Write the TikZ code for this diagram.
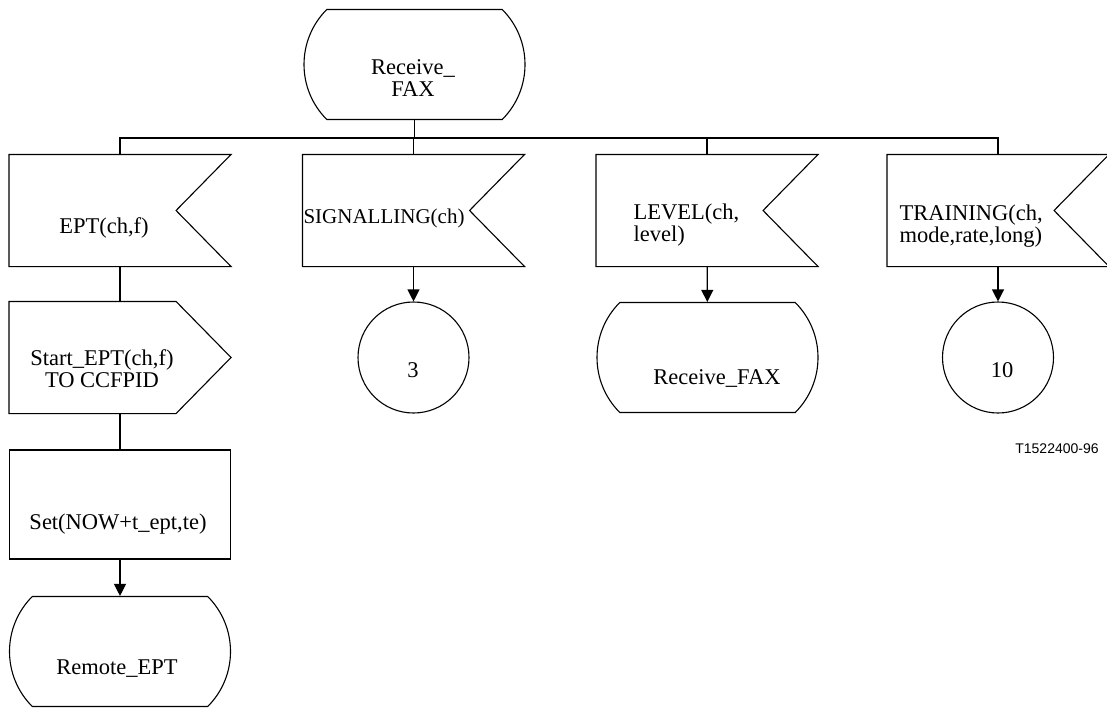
\documentclass[tikz,border=0pt]{standalone}
\usepackage{fontspec}
\setmainfont{Liberation Serif}
\newfontfamily\figfont{Liberation Sans}
\usetikzlibrary{arrows.meta, shapes.misc, positioning}

\tikzset{
  sdlstate/.style={rounded rectangle, rounded rectangle arc length=90, draw,
    minimum width=221pt, minimum height=110pt, inner sep=0pt},
  sdlbox/.style={rectangle, minimum width=221pt, minimum height=111pt, inner sep=0pt},
  % input signal: notch cut into the right side
  sdlinput/.style={sdlbox, append after command={
    \pgfextra{\draw (\tikzlastnode.north west) -- (\tikzlastnode.north east)
      -- ([xshift=-55pt]\tikzlastnode.east) -- (\tikzlastnode.south east)
      -- (\tikzlastnode.south west) -- cycle;}}},
  % output signal: point on the right side
  sdloutput/.style={sdlbox, append after command={
    \pgfextra{\draw (\tikzlastnode.north west) -- ([xshift=-55pt]\tikzlastnode.north east)
      -- (\tikzlastnode.east) -- ([xshift=-55pt]\tikzlastnode.south east)
      -- (\tikzlastnode.south west) -- cycle;}}},
  sdltask/.style={rectangle, draw, minimum width=221pt, minimum height=109pt, inner sep=0pt},
  sdljoin/.style={circle, draw, minimum size=111pt, inner sep=0pt},
  txt/.style={inner sep=0pt, align=center},
}

\begin{document}
\begin{tikzpicture}[x=1pt, y=-1pt, line width=1.1pt,
    >={Triangle[length=12pt, width=12pt]},
    font=\fontsize{22.5}{22}\selectfont]

\useasboundingbox (0,0) rectangle (1107,709);

% Shapes
\node[sdlstate] (start) at (414.5, 64.5) {};
\node[sdlinput] (in1) at (120, 210.5) {};
\node[sdlinput] (in2) at (413.5, 210.5) {};
\node[sdlinput] (in3) at (707, 210.5) {};
\node[sdlinput] (in4) at (998, 210.5) {};
\node[sdloutput] (out1) at (120, 357.5) {};
\node[sdljoin] (c3) at (413.5, 357.5) {};
\node[sdlstate] (st2) at (707.5, 357.5) {};
\node[sdljoin] (c10) at (998, 357.5) {};
\node[sdltask] (set) at (120, 504.5) {};
\node[sdlstate] (remote) at (120, 651.5) {};

% Texts
\node[txt] (t-start) at (413, 78.3) {Receive\_\\FAX};
\node[txt, anchor=base] (t-in1) at (104, 233) {EPT(ch,f)};
\node[txt, anchor=base west, font=\fontsize{21}{22}\selectfont] (t-in2) at (303, 223) {SIGNALLING(ch)};
\node[txt, align=left, anchor=west] (t-in3) at (633, 225.5) {LEVEL(ch,\\level)};
\node[txt, align=left, anchor=west] (t-in4) at (899, 225.7) {TRAINING(ch,\\mode,rate,long)};
\node[txt] (t-out1) at (102, 368.8) {Start\_EPT(ch,f)\\TO CCFPID};
\node[txt, anchor=base] (t-c3) at (413, 377) {3};
\node[txt, anchor=base] (t-st2) at (717, 384) {Receive\_FAX};
\node[txt, anchor=base] (t-c10) at (1002, 377) {10};
\node[txt, anchor=base] (t-set) at (118, 529) {Set(NOW+t\_ept,te)};
\node[txt, anchor=base] (t-remote) at (117, 674) {Remote\_EPT};
\node[txt, anchor=base, font=\figfont\fontsize{14}{16}\selectfont] (fig) at (1057, 453) {T1522400-96};

% Bus from the start state
\coordinate (bus) at (0, 138);
\draw (start) -- (start |- bus);
\draw (in1.north) -- (in1.north |- bus) -| (in4.north);
\draw (in2.north) -- (in2.north |- bus);
\draw (in3.north) -- (in3.north |- bus);

% Connectors
\draw (in1) -- (out1);
\draw (out1) -- (set);
\draw[->] (set) -- (remote);
\draw[->] (in2) -- (c3);
\draw[->] (in3) -- (st2);
\draw[->] (in4) -- (c10);

\end{tikzpicture}
\end{document}
